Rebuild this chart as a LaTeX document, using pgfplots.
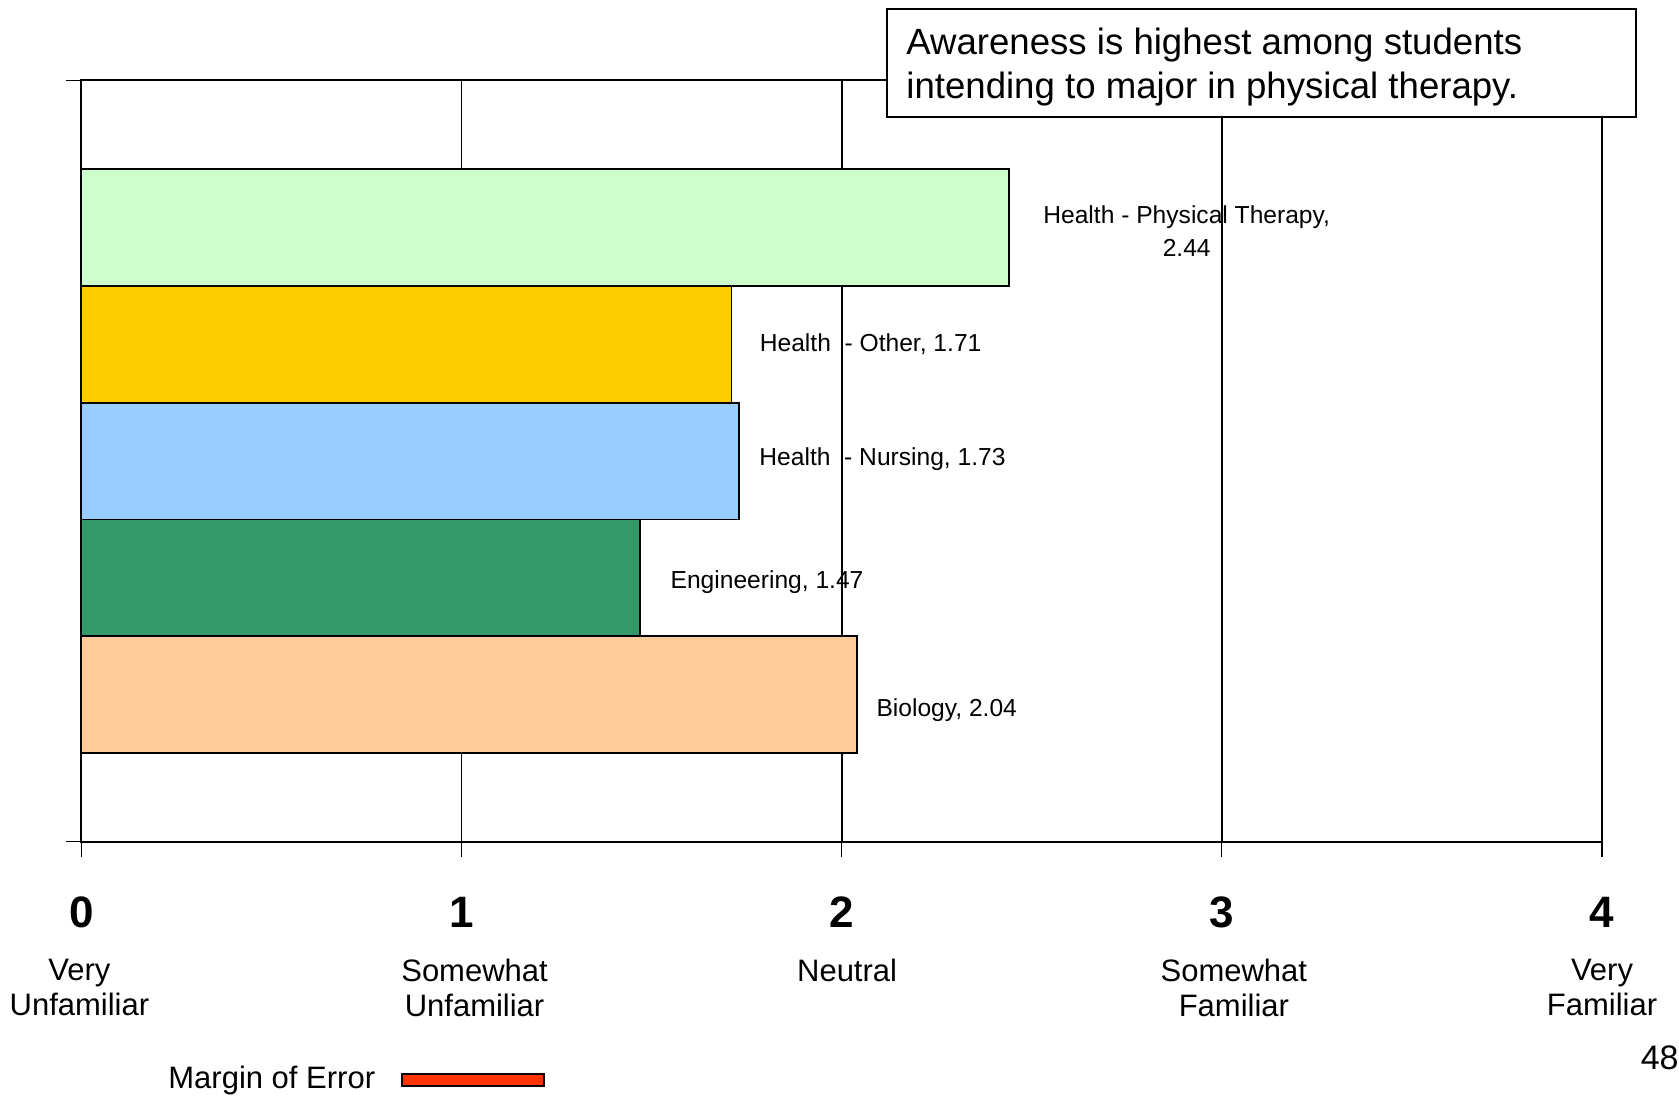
\documentclass[border=0pt]{standalone}
\usepackage{pgfplots}
\pgfplotsset{compat=1.18}
\usepackage{fontspec}
\setmainfont{Liberation Sans}

\definecolor{ptc}{HTML}{CCFFCC}
\definecolor{othc}{HTML}{FFCC00}
\definecolor{nurc}{HTML}{99CCFF}
\definecolor{engc}{HTML}{339966}
\definecolor{bioc}{HTML}{FFCC99}
\definecolor{moe}{HTML}{FF3300}

\begin{document}
\begin{tikzpicture}
\useasboundingbox (0,0) rectangle (839.5pt,548.5pt);
\begin{axis}[
  at={(40.7pt,127.6pt)}, anchor=south west,
  scale only axis, width=760.3pt, height=380.7pt,
  xmin=0, xmax=4, ymin=-1.26, ymax=5.26,
  xbar, bar width=1, bar shift=0pt,
  xtick={0,1,2,3,4},
  xticklabels={0,1,2,3,4},
  xticklabel style={font=\fontsize{22}{26}\selectfont\bfseries, anchor=north, inner sep=0pt, yshift=-20pt},
  ytick={-1.26,5.26}, yticklabels={},
  tick pos=left, tick align=outside,
  major tick length=7.5pt,
  tick style={black, line width=0.6pt},
  xmajorgrids, grid style={black, line width=0.8pt},
  axis line style={black, line width=1pt},
  clip=false,
]
\addplot[fill=ptc, draw=black, line width=0.8pt] coordinates {(2.44,4)};
\addplot[fill=othc, draw=black, line width=0.8pt] coordinates {(1.71,3)};
\addplot[fill=nurc, draw=black, line width=0.8pt] coordinates {(1.73,2)};
\addplot[fill=engc, draw=black, line width=0.8pt] coordinates {(1.47,1)};
\addplot[fill=bioc, draw=black, line width=0.8pt] coordinates {(2.04,0)};

\node[anchor=west, align=center, inner sep=0pt, xshift=17pt, yshift=-1.6pt, font=\fontsize{12.3}{16.6}\selectfont] at (axis cs:2.44,4) {Health - Physical Therapy,\\2.44};
\node[anchor=west, inner sep=0pt, xshift=14pt, font=\fontsize{12.3}{14}\selectfont] at (axis cs:1.71,3) {Health\ \ - Other, 1.71};
\node[anchor=west, inner sep=0pt, xshift=10pt, yshift=1pt, font=\fontsize{12.3}{14}\selectfont] at (axis cs:1.73,2) {Health\ \ - Nursing, 1.73};
\node[anchor=west, inner sep=0pt, xshift=15pt, yshift=-2pt, font=\fontsize{12.3}{14}\selectfont] at (axis cs:1.47,1) {Engineering, 1.47};
\node[anchor=west, inner sep=0pt, xshift=9.6pt, yshift=-7.5pt, font=\fontsize{12.3}{14}\selectfont] at (axis cs:2.04,0) {Biology, 2.04};

\node[anchor=north, align=center, inner sep=0pt, yshift=-58.6pt, xshift=-1pt, font=\fontsize{15.5}{17.5}\selectfont] at (axis cs:0,-1.26) {Very\\Unfamiliar};
\node[anchor=north, align=center, inner sep=0pt, yshift=-58.6pt, xshift=6.5pt, font=\fontsize{15.5}{17.5}\selectfont] at (axis cs:1,-1.26) {Somewhat\\Unfamiliar};
\node[anchor=north, align=center, inner sep=0pt, yshift=-58.6pt, xshift=2.7pt, font=\fontsize{15.5}{17.5}\selectfont] at (axis cs:2,-1.26) {Neutral};
\node[anchor=north, align=center, inner sep=0pt, yshift=-58.6pt, xshift=6pt, font=\fontsize{15.5}{17.5}\selectfont] at (axis cs:3,-1.26) {Somewhat\\Familiar};
\node[anchor=north, align=center, inner sep=0pt, yshift=-58.6pt, font=\fontsize{15.5}{17.5}\selectfont] at (axis cs:4,-1.26) {Very\\Familiar};
\end{axis}

\draw[black, line width=1pt, fill=white] (443.3pt,490.1pt) rectangle (818pt,544.2pt);
\node[anchor=base west, inner sep=0pt, font=\fontsize{18.3}{22}\selectfont] at (453pt,521.2pt) {Awareness is highest among students};
\node[anchor=base west, inner sep=0pt, font=\fontsize{18.3}{22}\selectfont] at (453pt,499.4pt) {intending to major in physical therapy.};

\node[anchor=base west, inner sep=0pt, font=\fontsize{15.5}{18}\selectfont] at (84pt,4.5pt) {Margin of Error};
\draw[black, line width=0.6pt, fill=moe] (201pt,5.5pt) rectangle (272pt,11.5pt);

\node[anchor=base east, inner sep=0pt, font=\fontsize{17}{20}\selectfont] at (839.5pt,14pt) {48};
\end{tikzpicture}
\end{document}
